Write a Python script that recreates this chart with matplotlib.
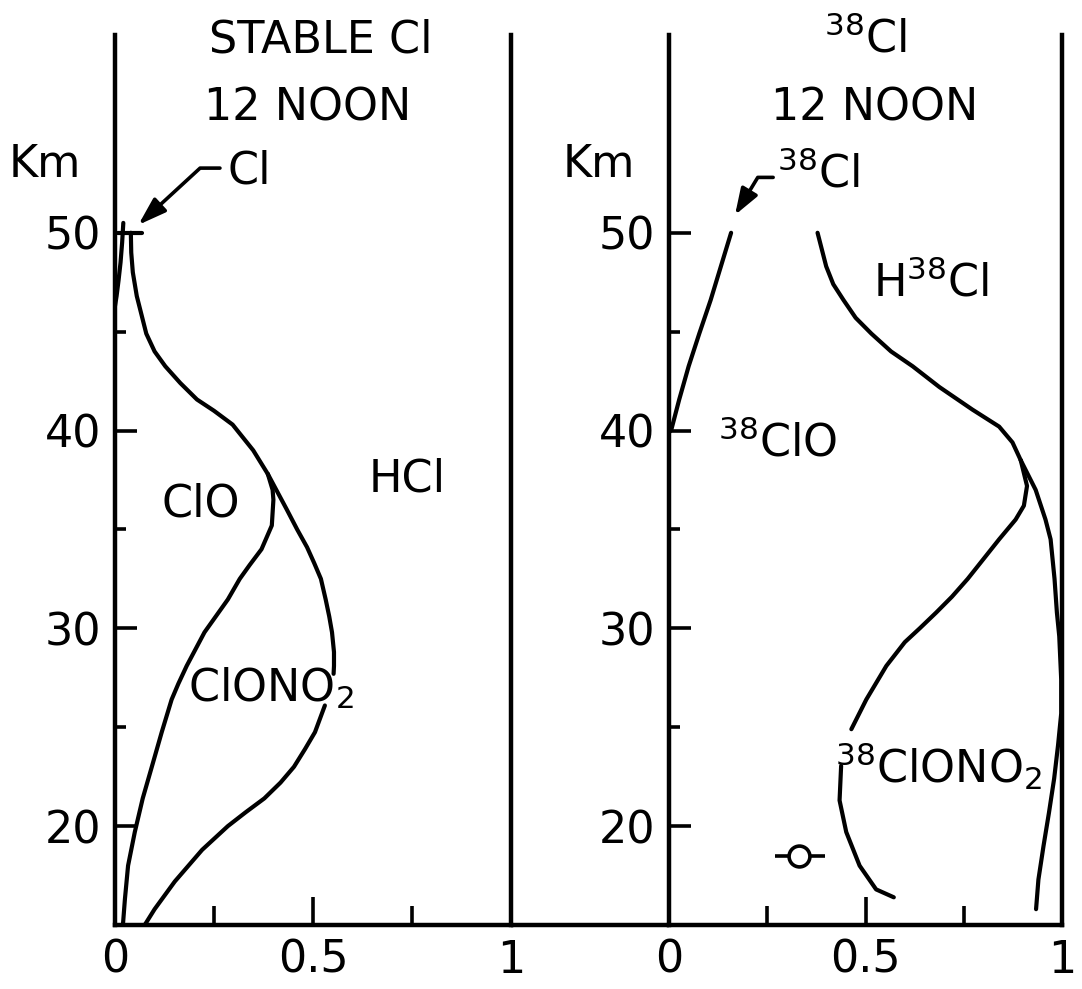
import matplotlib
matplotlib.use("Agg")
import matplotlib.pyplot as plt
import numpy as np

plt.rcParams['font.family'] = ['DejaVu Sans']
plt.rcParams['mathtext.fontset'] = 'dejavusans'

# ---------------- data: left panel (stable Cl, 12 noon) ----------------
# Cl boundary (thin sliver near the axis)
cl_x = [0.021, 0.018, 0.014, 0.009, 0.004, 0.0]
cl_km = [50.5, 49.5, 48.5, 47.6, 46.8, 46.3]
cl_cap_x = [0.008, 0.067]
cl_cap_km = [50.0, 50.0]

# shared upper boundary (ClO + ClONO2 merged above ~38 km)
upper_x = [0.040, 0.041, 0.045, 0.055, 0.079, 0.100, 0.127, 0.165, 0.207, 0.250,
           0.297, 0.349, 0.386]
upper_km = [50.0, 49.0, 48.0, 46.8, 44.9, 44.0, 43.25, 42.4, 41.57, 41.0,
            40.3, 39.0, 37.8]

# ClO / ClONO2 boundary below split
clo_x = [0.386, 0.398, 0.400, 0.396, 0.370, 0.340, 0.315, 0.285, 0.226, 0.181, 0.160,
         0.143, 0.118, 0.093, 0.070, 0.050, 0.033, 0.025, 0.020]
clo_km = [37.8, 37.0, 36.5, 35.2, 34.0, 33.2, 32.5, 31.46, 29.8, 28.1, 27.2,
          26.4, 24.75, 23.0, 21.4, 19.7, 18.0, 16.3, 15.0]

# ClONO2 / HCl boundary below split (gap where the label sits)
clono2_x = [0.386, 0.434, 0.460, 0.485, 0.503, 0.520, 0.532, 0.541, 0.548, 0.553,
            0.553, 0.552, np.nan,
            0.530, 0.505, 0.480, 0.452, 0.418, 0.377, 0.330, 0.285, 0.220, 0.151,
            0.100, 0.075]
clono2_km = [37.8, 36.0, 35.0, 34.1, 33.3, 32.5, 31.46, 30.6, 29.8, 28.8,
             28.1, 27.7, np.nan,
             26.1, 24.75, 23.9, 23.0, 22.2, 21.4, 20.7, 20.0, 18.8, 17.2,
             15.8, 15.0]

# ---------------- data: right panel (38Cl, 12 noon) ----------------
cl38_x = [0.158, 0.132, 0.106, 0.077, 0.050, 0.026, 0.006, 0.0]
cl38_km = [50.0, 48.3, 46.6, 44.9, 43.25, 41.57, 40.05, 39.9]

hcl38_x = [0.378, 0.400, 0.418, 0.444, 0.475, 0.515, 0.565, 0.620, 0.688, 0.772,
           0.840, 0.874, 0.895]
hcl38_km = [50.0, 48.3, 47.4, 46.6, 45.7, 44.9, 44.0, 43.25, 42.2, 41.06,
            40.2, 39.4, 38.5]

inner_x = [0.895, 0.911, 0.903, 0.882, 0.840, 0.800, 0.760, 0.720, 0.680, 0.638,
           0.600, 0.553, 0.502, 0.464,
           np.nan, 0.438, 0.434, 0.451, 0.485, 0.527, 0.572]
inner_km = [38.5, 37.2, 36.2, 35.5, 34.5, 33.5, 32.5, 31.6, 30.8, 30.0,
            29.3, 28.1, 26.4, 24.9,
            np.nan, 23.05, 21.3, 19.7, 18.0, 16.8, 16.4]

outer_x = [0.895, 0.933, 0.958, 0.971, 0.981, 0.987, 0.993, 0.998, 0.998, 0.990,
           0.980, 0.967, 0.953, 0.940, 0.934]
outer_km = [38.5, 37.0, 35.5, 34.5, 32.5, 30.8, 29.6, 27.4, 25.7, 24.1,
            22.4, 20.7, 19.0, 17.3, 15.8]

obs_x = [0.332]
obs_km = [18.5]
obs_xerr_lo = [0.063]
obs_xerr_hi = [0.064]

ytick_major = [20, 30, 40, 50]
ytick_minor = [25, 35, 45]
xtick_major = [0, 0.5, 1]
xtick_labels = ['0', '0.5', '1']
xtick_minor = [0.25, 0.75]

# ---------------- figure ----------------
W, H = 1082, 989
fig = plt.figure(figsize=(W / 100, H / 100), dpi=100)
ax1 = fig.add_axes([115 / W, (H - 925) / H, 396 / W, 890 / H])
ax2 = fig.add_axes([669 / W, (H - 925) / H, 393 / W, 890 / H])

FS = 32
LW = 3.0
SPW = 3.2

for ax in (ax1, ax2):
    ax.set_xlim(0, 1)
    ax.set_ylim(15, 60)
    ax.spines['top'].set_visible(False)
    for s in ('left', 'right', 'bottom'):
        ax.spines[s].set_linewidth(SPW)
    ax.set_yticks(ytick_major)
    ax.set_yticks(ytick_minor, minor=True)
    ax.set_xticks(xtick_major)
    ax.set_xticklabels(xtick_labels)
    ax.set_xticks(xtick_minor, minor=True)
    ax.tick_params(axis='y', which='major', direction='in', length=16, width=2.6,
                   labelsize=FS, pad=10)
    ax.tick_params(axis='y', which='minor', direction='in', length=8, width=2.6)
    ax.tick_params(axis='x', which='major', direction='in', length=20, width=2.6,
                   labelsize=FS, pad=10)
    ax.tick_params(axis='x', which='minor', direction='in', length=14, width=2.6)
    ax.text(-0.178, 52.8, 'Km', fontsize=FS, ha='center', va='baseline', clip_on=False)

# bottom line bridging the two panels
ax1.plot([1, (669 - 115) / 396], [0, 0], transform=ax1.transAxes, color='black',
         lw=SPW, clip_on=False, solid_capstyle='butt')

# ---- left panel curves ----
kw = dict(color='black', lw=LW, solid_capstyle='round', solid_joinstyle='round')
ax1.plot(cl_x, cl_km, **kw)
ax1.plot(cl_cap_x, cl_cap_km, **kw)
ax1.plot(upper_x, upper_km, **kw)
ax1.plot(clo_x, clo_km, **kw)
ax1.plot(clono2_x, clono2_km, **kw)

ax1.text(0.52, 59.1, 'STABLE Cl', fontsize=FS, ha='center', va='baseline', clip_on=False)
ax1.text(0.487, 55.7, '12 NOON', fontsize=FS, ha='center', va='baseline')
ax1.text(0.285, 52.5, 'Cl', fontsize=FS, ha='left', va='baseline')
ax1.annotate('', xy=(0.059, 50.4), xytext=(0.265, 53.27),
             arrowprops=dict(arrowstyle='-|>,head_length=0.85,head_width=0.28',
                             connectionstyle='angle,angleA=0,angleB=42.6,rad=0',
                             color='black', lw=2.6, shrinkA=0, shrinkB=0,
                             mutation_scale=20))
ax1.text(0.217, 35.66, 'ClO', fontsize=FS, ha='center', va='baseline')
ax1.text(0.737, 36.9, 'HCl', fontsize=FS, ha='center', va='baseline')
ax1.text(0.184, 26.3, 'ClONO$_2$', fontsize=FS, ha='left', va='baseline')

# ---- right panel curves ----
ax2.plot(cl38_x, cl38_km, **kw)
ax2.plot(hcl38_x, hcl38_km, **kw)
ax2.plot(inner_x, inner_km, **kw)
ax2.plot(outer_x, outer_km, **kw)
ax2.errorbar(obs_x, obs_km, xerr=[obs_xerr_lo, obs_xerr_hi], fmt='o', ms=15,
             mfc='white', mec='black', mew=2.6, ecolor='black', elinewidth=2.6,
             capsize=0, zorder=5)

ax2.text(0.50, 59.1, '$^{38}$Cl', fontsize=FS, ha='center', va='baseline', clip_on=False)
ax2.text(0.523, 55.7, '12 NOON', fontsize=FS, ha='center', va='baseline')
ax2.text(0.275, 52.27, '$^{38}$Cl', fontsize=FS, ha='left', va='baseline')
ax2.annotate('', xy=(0.168, 50.9), xytext=(0.265, 52.8),
             arrowprops=dict(arrowstyle='-|>,head_length=0.8,head_width=0.28',
                             connectionstyle='angle,angleA=0,angleB=58.8,rad=0',
                             color='black', lw=2.6, shrinkA=0, shrinkB=0,
                             mutation_scale=20))
ax2.text(0.519, 46.77, 'H$^{38}$Cl', fontsize=FS, ha='left', va='baseline')
ax2.text(0.124, 38.7, '$^{38}$ClO', fontsize=FS, ha='left', va='baseline')
ax2.text(0.422, 22.2, '$^{38}$ClONO$_2$', fontsize=FS, ha='left', va='baseline')

fig.savefig('out.png', dpi=100)
